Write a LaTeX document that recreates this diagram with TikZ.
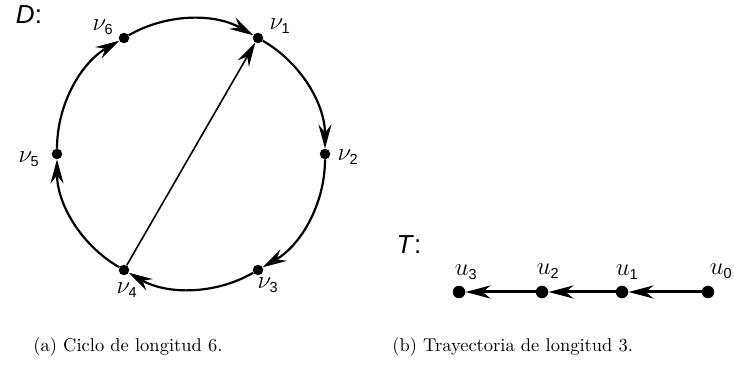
\documentclass[tikz,border=0pt]{standalone}
\usepackage{fontspec}
\newfontfamily\arial{Liberation Sans}
\usetikzlibrary{arrows.meta}
\newcommand\lbl[2]{$#1_{\hbox{\arial\fontsize{14.5}{15}\selectfont #2}}$}
\begin{document}
\begin{tikzpicture}[x=1pt,y=1pt,
  dot/.style={circle,fill=black,inner sep=0pt,minimum size=10.5pt},
  bigdot/.style={circle,fill=black,inner sep=0pt,minimum size=12.5pt},
  headtip/.style={-{Stealth[length=24pt,width=13pt,inset=8pt]}},
  arcedge/.style={line width=2.2pt,headtip},
  chordedge/.style={line width=1.6pt,headtip},
  trailedge/.style={line width=3pt,-{Stealth[length=25pt,width=13pt,inset=8pt]}},
  vlab/.style={font=\fontsize{26}{28}\selectfont,inner sep=0pt},
  glab/.style={font=\arial\itshape\fontsize{26}{28}\selectfont,inner sep=0pt},
  captxt/.style={font=\normalsize,scale=1.85,inner sep=0pt,anchor=base west}]
\useasboundingbox (0,0) rectangle (734,369);
% cycle D
\node[dot] (v1) at (258,331) {};
\node[dot] (v2) at (325,215) {};
\node[dot] (v3) at (258,99) {};
\node[dot] (v4) at (124,99) {};
\node[dot] (v5) at (57,215) {};
\node[dot] (v6) at (124,331) {};
\node[glab] (D) at (29,354) {D\/\upshape:};
\node[vlab] (l1) at (280,343) {\lbl{\nu}{1}};
\node[vlab] (l2) at (348,212) {\lbl{\nu}{2}};
\node[vlab] (l3) at (268,84) {\lbl{\nu}{3}};
\node[vlab] (l4) at (127,79) {\lbl{\nu}{4}};
\node[vlab] (l5) at (29,210) {\lbl{\nu}{5}};
\node[vlab] (l6) at (103,342) {\lbl{\nu}{6}};
\draw[arcedge] (v6) to[out=30,in=150,looseness=0.91] (v1);
\draw[arcedge] (v1) to[out=-30,in=90,looseness=0.91] (v2);
\draw[arcedge] (v2) to[out=-90,in=30,looseness=0.91] (v3);
\draw[arcedge] (v3) to[out=-150,in=-30,looseness=0.91] (v4);
\draw[arcedge] (v4) to[out=150,in=-90,looseness=0.91] (v5);
\draw[arcedge] (v5) to[out=90,in=-150,looseness=0.91] (v6);
\draw[chordedge] (v4) -- (v1);
% path T
\node[glab] (T) at (409,124) {T\/\upshape:};
\node[bigdot] (u3) at (459,77) {};
\node[bigdot] (u2) at (542,77) {};
\node[bigdot] (u1) at (622,77) {};
\node[bigdot] (u0) at (708,77) {};
\node[vlab] (m3) at (466,97) {\lbl{u}{3}};
\node[vlab] (m2) at (548,98) {\lbl{u}{2}};
\node[vlab] (m1) at (627,97) {\lbl{u}{1}};
\node[vlab] (m0) at (721,98) {\lbl{u}{0}};
\draw[trailedge] (u0) -- (u1);
\draw[trailedge] (u1) -- (u2);
\draw[trailedge] (u2) -- (u3);
% captions
\node[captxt] (ca) at (33,17) {(a) Ciclo de longitud 6.};
\node[captxt] (cb) at (392,17) {(b) Trayectoria de longitud 3.};
\end{tikzpicture}
\end{document}
